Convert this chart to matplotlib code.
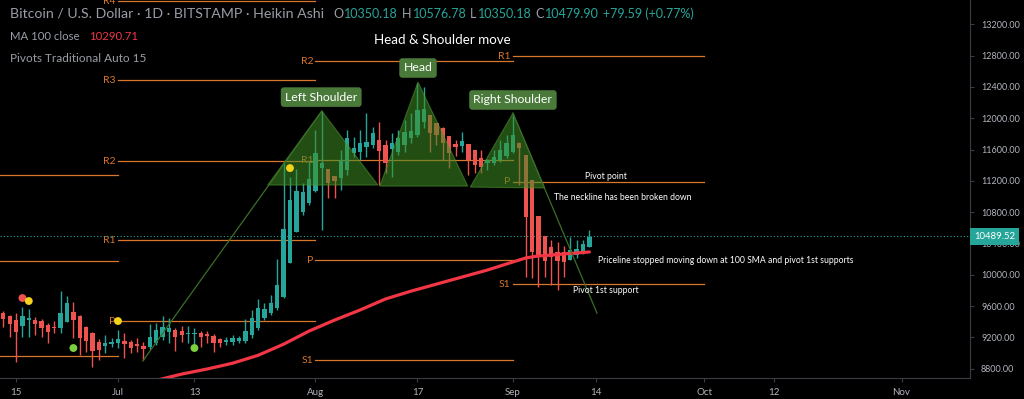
import numpy as np
import pandas as pd
import matplotlib
matplotlib.use('Agg')
import matplotlib.pyplot as plt
import matplotlib.transforms as mtransforms

plt.rcParams['font.family'] = ['Lato', 'DejaVu Sans']

# ---- data (Heikin Ashi, BTC/USD daily, Bitstamp) ----
first_day = '2020-06-13'
last_day = '2020-09-13'

opens = [9510, 9472, 9421, 9344, 9421, 9421, 9408, 9357, 9332, 9319,
         9395, 9523, 9472, 9332, 9255, 9140, 9089, 9114, 9127, 9153,
         9140, 9114, 9089, 9076, 9127, 9204, 9268, 9293, 9280, 9242,
         9242, 9255, 9242, 9216, 9178, 9140, 9140, 9153, 9153, 9229,
         9319, 9446, 9510, 9574, 9715, 10150, 10546, 10802, 10917, 11070,
         11363, 11350, 11261, 11236, 11338, 11555, 11568, 11632, 11658, 11721,
         11657, 11606, 11568, 11657, 11747, 11785, 11951, 12040, 11938, 11874,
         11772, 11670, 11644, 11670, 11594, 11491, 11427, 11427, 11466, 11517,
         11568, 11683, 11530, 11210, 10750, 10495, 10354, 10290, 10290, 10188,
         10252, 10277, 10350]
highs = [9536, 9485, 9510, 9587, 9561, 9459, 9434, 9382, 9408, 9792,
         9728, 9651, 9485, 9344, 9268, 9178, 9229, 9191, 9293, 9255,
         9166, 9191, 9140, 9370, 9382, 9472, 9446, 9319, 9344, 9344,
         9319, 9280, 9280, 9242, 9191, 9204, 9229, 9216, 9434, 9549,
         9689, 9638, 9740, 10200, 11427, 11248, 11350, 11172, 11440, 11849,
         12092, 11350, 11261, 11594, 11849, 11760, 11849, 12066, 11887, 11951,
         11721, 11810, 11849, 11977, 12066, 12450, 12400, 12040, 11938, 11887,
         11772, 11721, 11823, 11670, 11594, 11594, 11480, 11594, 11721, 11785,
         12060, 11700, 11530, 11210, 10750, 10495, 10444, 10418, 10367, 10482,
         10444, 10444, 10577]
lows = [9332, 9204, 8885, 9204, 9204, 9229, 9204, 9127, 9255, 9255,
        9395, 9191, 8974, 9012, 8821, 8910, 9000, 9076, 9063, 8936,
        9000, 9012, 8910, 9050, 9102, 9166, 9127, 9025, 9140, 9127,
        9089, 9076, 9127, 9012, 9076, 9102, 9102, 9127, 9127, 9191,
        9293, 9421, 9485, 9549, 9702, 10150, 10546, 10763, 10890, 11057,
        10571, 10980, 10980, 11082, 11274, 11504, 11466, 11504, 11619, 11146,
        11299, 11248, 11530, 11568, 11683, 11760, 11874, 11568, 11657, 11466,
        11363, 11517, 11568, 11274, 11300, 11299, 11338, 11400, 11440, 11490,
        11550, 11150, 9970, 9957, 9842, 9970, 9868, 9805, 9970, 10188,
        10214, 10265, 10350]
closes = [9434, 9370, 9268, 9472, 9446, 9370, 9319, 9268, 9319, 9510,
          9638, 9421, 9191, 9153, 9025, 9038, 9127, 9140, 9178, 9114,
          9063, 9089, 9050, 9204, 9293, 9332, 9319, 9204, 9229, 9255,
          9255, 9204, 9216, 9127, 9127, 9166, 9191, 9191, 9280, 9446,
          9574, 9561, 9638, 9868, 10584, 10955, 11070, 11057, 11223, 11555,
          11427, 11172, 11197, 11466, 11747, 11619, 11683, 11696, 11811, 11581,
          11427, 11683, 11747, 11823, 11836, 12105, 12117, 11811, 11785, 11683,
          11555, 11632, 11708, 11466, 11402, 11376, 11466, 11504, 11594, 11683,
          11785, 11619, 10738, 10290, 10226, 10175, 10226, 10175, 10163, 10316,
          10329, 10392, 10480]

ma_dates = ['2020-07-07', '2020-07-11', '2020-07-15', '2020-07-19', '2020-07-23',
            '2020-07-27', '2020-07-31', '2020-08-04', '2020-08-08', '2020-08-12',
            '2020-08-16', '2020-08-20', '2020-08-24', '2020-08-28', '2020-09-01',
            '2020-09-03', '2020-09-05', '2020-09-07', '2020-09-09', '2020-09-11',
            '2020-09-13']
ma_values = [8650, 8730, 8795, 8869, 8970, 9112, 9280, 9420, 9549, 9690,
             9790, 9880, 9970, 10060, 10163, 10214, 10240, 10252, 10265, 10278,
             10291]

# monthly traditional pivots
period_starts = ['2020-06-01', '2020-07-01', '2020-08-01', '2020-09-01']
period_ends = ['2020-07-01', '2020-08-01', '2020-09-01', '2020-10-01']
pivot_names = [[None, None, None],
               ['R4', 'R3', 'R2', 'R1', 'P'],
               ['R2', 'R1', 'P', 'S1'],
               ['R1', 'P', 'S1']]
pivot_levels = [[11274, 10175, 8961],
                [13498, 12488, 11453, 10443, 9408],
                [12730, 11466, 10188, 8910],
                [12795, 11185, 9881]]

# signal dots
dot_dates = ['2020-06-16', '2020-06-17', '2020-06-24', '2020-07-01', '2020-07-13', '2020-07-28']
dot_prices = [9702, 9664, 9063, 9408, 9063, 11363]
dot_colors = ['#ef5350', '#f5d31c', '#7ccf3e', '#f5d31c', '#7ccf3e', '#f5d31c']

# head & shoulders drawing (x in days after 1 Jul)
tri_x = [[23.5, 32.0, 40.8], [41.1, 47.1, 54.9], [55.3, 62.0, 67.0]]
tri_y = [[11146, 12092, 11146], [11133, 12461, 11133], [11120, 12066, 11108]]
ext_x = [[3.9, 32.0], [62.0, 75.2]]
ext_y = [[8897, 12092], [12066, 9508]]
shape_labels = ['Left Shoulder', 'Head', 'Right Shoulder']
shape_label_x = [31.9, 47.1, 62.0]
shape_label_y = [12270, 12642, 12233]

notes = ['Pivot point', 'The neckline has been broken down',
         'Priceline stopped moving down at 100 SMA and pivot 1st supports',
         'Pivot 1st support']
note_x = [73.3, 68.4, 75.4, 71.4]
note_y = [11249, 10981, 10188, 9792]

last_price = 10489.52
tick_dates = ['2020-06-15', '2020-07-01', '2020-07-13', '2020-08-01', '2020-08-17',
              '2020-09-01', '2020-09-14', '2020-10-01', '2020-10-12', '2020-11-01']
tick_names = ['15', 'Jul', '13', 'Aug', '17', 'Sep', '14', 'Oct', '12', 'Nov']

# ---- drawing ----
origin = pd.Timestamp('2020-07-01')


def day(s):
    return (pd.Timestamp(s) - origin).days


UP = '#26a69a'
DOWN = '#ef5350'
GREY = '#9a9da6'
ORANGE = '#d8762c'
W, H = 1024, 399

fig = plt.figure(figsize=(W / 100, H / 100), dpi=100, facecolor='black')
ax = fig.add_axes([0, 21 / H, 970 / W, 378 / H])
ax.set_facecolor('black')
ax.set_xlim(-18.52, 133.75)
ax.set_ylim(8680, 13511)

x = np.array([day(d) for d in pd.date_range(first_day, last_day, freq='D')])
o, h, l, c = map(np.array, (opens, highs, lows, closes))
col = np.where(c >= o, UP, DOWN)
ax.vlines(x, l, h, colors=col, lw=1, zorder=3)
body = np.maximum(np.abs(c - o), 10)
ax.bar(x, body, bottom=np.minimum(o, c), width=0.68, color=col, zorder=3)

# pivots
for i in range(len(period_starts)):
    x0, x1 = day(period_starts[i]), day(period_ends[i])
    for name, lev in zip(pivot_names[i], pivot_levels[i]):
        ax.plot([x0, x1], [lev, lev], color=ORANGE, lw=0.9, zorder=1)
        if name:
            ax.text(x0 - 0.35, lev, name, color=ORANGE, fontsize=7.5,
                    ha='right', va='center', zorder=2)

# 100 MA
ax.plot([day(d) for d in ma_dates], ma_values, color='#f23645', lw=2.3,
        zorder=4, solid_capstyle='round')

ax.scatter([day(d) for d in dot_dates], dot_prices, s=32, c=dot_colors,
           zorder=6, linewidths=0)

ax.axhline(last_price, color=UP, lw=0.8, ls=(0, (1, 2)), zorder=2)

# H&S shapes
for tx, ty in zip(tri_x, tri_y):
    ax.fill(tx, ty, facecolor='#3f8f25', alpha=0.55, edgecolor='#4f9a30',
            lw=0.8, zorder=5)
for ex, ey in zip(ext_x, ext_y):
    ax.plot(ex, ey, color='#3a6e27', lw=0.9, zorder=5)
for s, lx, ly in zip(shape_labels, shape_label_x, shape_label_y):
    ax.text(lx, ly, s, color='white', fontsize=8.8, ha='center', va='center',
            zorder=7, bbox=dict(boxstyle='round,pad=0.35,rounding_size=0.25',
                                fc='#4a7a3a', ec='none'))
ax.text(50.9, 12999, 'Head & Shoulder move', color='white', fontsize=9.6,
        ha='center', va='center', zorder=7)

for s, nx, ny in zip(notes, note_x, note_y):
    ax.text(nx, ny, s, color='white', fontsize=6.2, ha='left', va='center',
            zorder=7)

# axes styling
for side in ('left', 'top'):
    ax.spines[side].set_visible(False)
for side in ('right', 'bottom'):
    ax.spines[side].set_color('#3a3d45')
ax.yaxis.tick_right()
ax.set_yticks(np.arange(8800, 13201, 400))
ax.set_yticklabels([f'{v:.2f}' for v in np.arange(8800, 13201, 400)])
ax.tick_params(axis='y', colors='#3a3d45', labelcolor='#b2b5be',
               labelsize=6.5, length=3, pad=5)
ax.set_xticks([day(d) for d in tick_dates])
ax.set_xticklabels(tick_names)
ax.tick_params(axis='x', colors='#3a3d45', labelcolor='#b2b5be',
               labelsize=7, length=3, pad=4)

trans = mtransforms.blended_transform_factory(ax.transAxes, ax.transData)
ax.text(1.004, last_price, f'{last_price:.2f}', transform=trans, color='white',
        fontsize=6.8, ha='left', va='center', zorder=8, clip_on=False,
        bbox=dict(boxstyle='square,pad=0.4', fc=UP, ec='none'))

# header legend
renderer = fig.canvas.get_renderer()


def put_row(parts, px, py):
    for s, color, size, gap in parts:
        t = fig.text(px / W, 1 - py / H, s, color=color, fontsize=size,
                     ha='left', va='center')
        bb = t.get_window_extent(renderer=renderer)
        px = bb.x1 + gap


put_row([('Bitcoin / U.S. Dollar · 1D · BITSTAMP · Heikin Ashi', GREY, 10.2, 9),
         ('O', GREY, 9, 1), ('10350.18', UP, 9, 4),
         ('H', GREY, 9, 1), ('10576.78', UP, 9, 4),
         ('L', GREY, 9, 1), ('10350.18', UP, 9, 4),
         ('C', GREY, 9, 1), ('10479.90', UP, 9, 4),
         ('+79.59 (+0.77%)', UP, 9, 0)], 10, 14)
put_row([('MA 100 close', GREY, 8.2, 9), ('10290.71', '#f23645', 8.2, 0)], 10, 36)
put_row([('Pivots Traditional Auto 15', GREY, 8.5, 0)], 10, 58)

fig.savefig('out.png', dpi=100, facecolor='black')
